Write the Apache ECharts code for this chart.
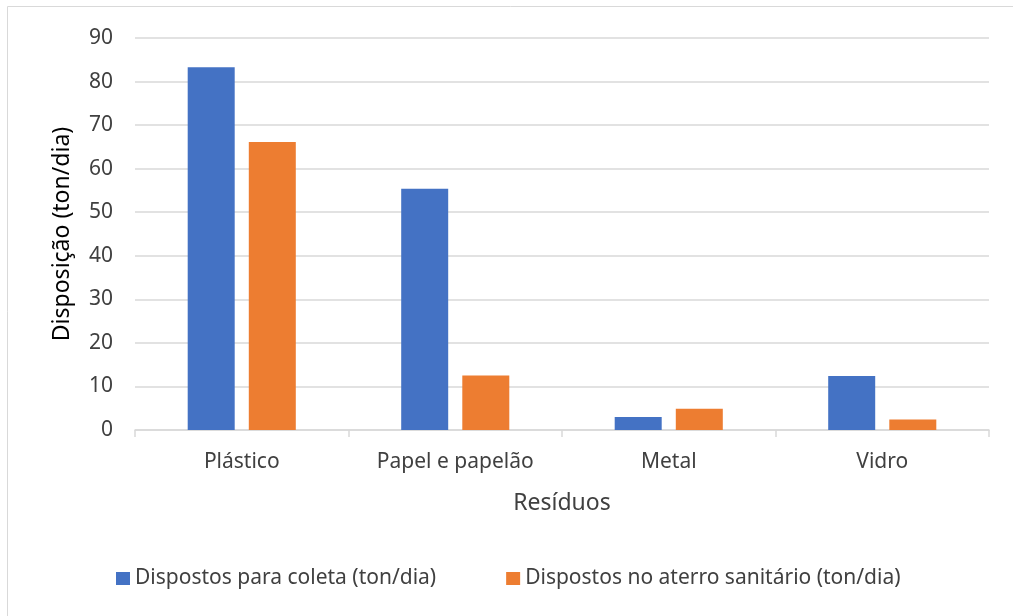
<!DOCTYPE html>
<html><head><meta charset="utf-8">
<script src="https://cdn.jsdelivr.net/npm/echarts@6/dist/echarts.min.js"></script>
<style>html,body{margin:0;padding:0;background:#fff}#c{width:1013px;height:616px}</style>
</head><body><div id="c"></div>
<script>
const categories = ['Plástico', 'Papel e papelão', 'Metal', 'Vidro'];
const coleta = [83.3, 55.4, 3.0, 12.4];
const aterro = [66.1, 12.5, 4.9, 2.4];
const seriesNames = ['Dispostos para coleta (ton/dia)', 'Dispostos no aterro sanitário (ton/dia)'];
const font = 'Noto Sans';
const chart = echarts.init(document.getElementById('c'));
chart.setOption({
  animation: false,
  textStyle: { fontFamily: font },
  graphic: [{ type: 'rect', shape: { x: 7.5, y: 6.5, width: 1020, height: 620 }, style: { fill: 'none', stroke: '#d9d9d9', lineWidth: 1 }, silent: true }],
  grid: { left: 135, right: 24, top: 38, bottom: 186 },
  legend: {
    data: seriesNames, left: 116, top: 568, padding: 0, icon: 'rect', itemWidth: 14, itemHeight: 13, itemGap: 70,
    textStyle: { fontFamily: font, fontSize: 21, color: '#404040' }
  },
  xAxis: {
    type: 'category', data: categories,
    name: 'Resíduos', nameLocation: 'middle', nameGap: 62,
    nameTextStyle: { fontFamily: font, fontSize: 23, color: '#404040' },
    axisLine: { lineStyle: { color: '#d9d9d9', width: 1.5 } },
    axisTick: { show: true, length: 7, lineStyle: { color: '#d9d9d9', width: 1.5 } },
    axisLabel: { fontFamily: font, fontSize: 21, color: '#404040', margin: 22 }
  },
  yAxis: {
    type: 'value', min: 0, max: 90, interval: 10,
    name: 'Disposição (ton/dia)', nameLocation: 'middle', nameGap: 61, nameRotate: 90,
    nameTextStyle: { fontFamily: font, fontSize: 23, color: '#000' },
    axisLine: { show: false }, axisTick: { show: false },
    axisLabel: { fontFamily: font, fontSize: 21, color: '#404040', margin: 22 },
    splitLine: { lineStyle: { color: '#d9d9d9', width: 1.5 } }
  },
  series: [
    { name: seriesNames[0], type: 'bar', data: coleta, barWidth: 47, barGap: '30%', itemStyle: { color: '#4472c4' } },
    { name: seriesNames[1], type: 'bar', data: aterro, barWidth: 47, itemStyle: { color: '#ed7d31' } }
  ]
});
</script></body></html>
